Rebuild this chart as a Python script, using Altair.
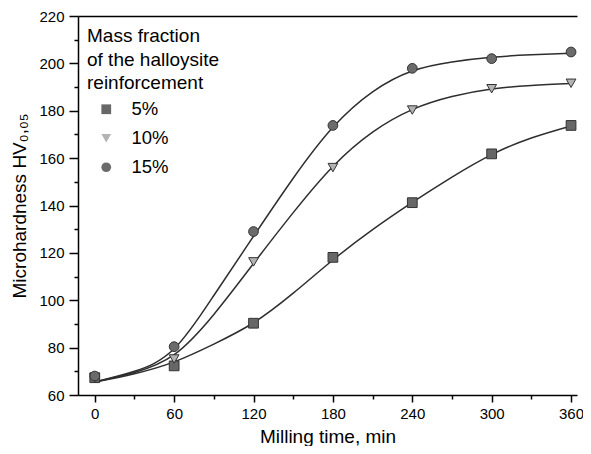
import altair as alt
import pandas as pd

# ---- data ----
series = ["5%", "10%", "15%"]
time_pts = [0, 60, 120, 180, 240, 300, 360]
hv_5 = [67.3, 72.3, 90.3, 118.1, 141.2, 161.8, 173.8]
hv_10 = [67.4, 75.2, 116.2, 156.0, 180.3, 189.3, 191.6]
hv_15 = [68.0, 80.4, 129.0, 173.8, 197.9, 202.0, 204.8]

# fitted curves
fit_time = [0, 30, 60, 90, 120, 150, 180, 210, 240, 270, 300, 330, 360]
fit_5 = [65.5, 69.0, 74.0, 81.5, 90.5, 103.0, 117.0, 129.8, 141.3, 152.0, 161.5, 168.5, 173.6]
fit_10 = [65.5, 69.5, 77.0, 94.0, 115.5, 137.0, 156.5, 171.0, 180.5, 186.0, 189.2, 190.7, 191.5]
fit_15 = [65.5, 70.0, 79.5, 102.0, 127.0, 151.5, 173.0, 188.0, 196.8, 200.6, 202.6, 203.6, 204.3]

x_major = [0, 60, 120, 180, 240, 300, 360]
x_minor = [30, 90, 150, 210, 270, 330]
y_major = [60, 80, 100, 120, 140, 160, 180, 200, 220]
y_minor = [70, 90, 110, 130, 150, 170, 190, 210]

legend_title = ["Mass fraction", "of the halloysite", "reinforcement"]

# ---- tables ----
pts = pd.DataFrame({
    "t": time_pts * 3,
    "hv": hv_5 + hv_10 + hv_15,
    "s": [series[0]] * 7 + [series[1]] * 7 + [series[2]] * 7,
})
fit = pd.DataFrame({
    "t": fit_time * 3,
    "hv": fit_5 + fit_10 + fit_15,
    "s": [series[0]] * 13 + [series[1]] * 13 + [series[2]] * 13,
})

FONT = "Liberation Sans"
xs = alt.Scale(domain=[-12.67, 364.5], nice=False, zero=False)
ys = alt.Scale(domain=[60, 220], nice=False, zero=False)

ax_x_major = alt.Axis(values=x_major, title="Milling time, min", grid=False, tickSize=7,
                      tickWidth=1.5, tickColor="black", domainColor="black", domainWidth=1.5,
                      labelFontSize=15, labelPadding=4, labelColor="black", labelFlush=False,
                      labelOverlap=False, format="d", titleFontSize=19, titleFontWeight="normal",
                      titleColor="black", titlePadding=6, orient="bottom")
ax_y_major = alt.Axis(values=y_major, title="Microhardness HV₀,₀₅", grid=False, tickSize=9,
                      tickWidth=1.5, tickColor="black", domainColor="black", domainWidth=1.5,
                      labelFontSize=15, labelPadding=5, labelColor="black", labelFlush=False,
                      labelOverlap=False, format="d", titleFontSize=19, titleFontWeight="normal",
                      titleColor="black", titlePadding=9, orient="left")
ax_x_minor = alt.Axis(values=x_minor, title=None, grid=False, tickSize=4, tickWidth=1.5,
                      tickColor="black", domain=False, labels=False, orient="bottom")
ax_y_minor = alt.Axis(values=y_minor, title=None, grid=False, tickSize=4, tickWidth=1.5,
                      tickColor="black", domain=False, labels=False, orient="left")
ax_x_top = alt.Axis(title=None, grid=False, ticks=False, labels=False, domain=True,
                    domainColor="black", domainWidth=1.5, orient="top")

legend = alt.Legend(title=legend_title, orient="none", legendX=9, legendY=11,
                    titleFontSize=19, titleFontWeight="normal", titleLineHeight=23.5,
                    titlePadding=7, titleColor="black", titleFont=FONT,
                    labelFontSize=18.5, labelColor="black", labelFont=FONT, labelOffset=16,
                    symbolSize=95, symbolOffset=10, rowPadding=10,
                    symbolStrokeColor="#333333", symbolStrokeWidth=1)

lines = alt.Chart(fit).mark_line(interpolate="natural", color="#2e2e2e", strokeWidth=1.5).encode(
    x=alt.X("t:Q", scale=xs, axis=ax_x_major),
    y=alt.Y("hv:Q", scale=ys, axis=ax_y_major),
    detail="s:N",
)

points = alt.Chart(pts).mark_point(filled=True, size=95, stroke="#333333", strokeWidth=1,
                                   opacity=1).encode(
    x=alt.X("t:Q", scale=xs, axis=ax_x_minor),
    y=alt.Y("hv:Q", scale=ys, axis=ax_y_minor),
    shape=alt.Shape("s:N", scale=alt.Scale(domain=series, range=["square", "triangle-down", "circle"]),
                    legend=legend),
    fill=alt.Fill("s:N", scale=alt.Scale(domain=series, range=["#676767", "#b3b3b3", "#6b6b6b"]),
                  legend=legend),
)

top = alt.Chart(fit).mark_line(strokeOpacity=0).encode(
    x=alt.X("t:Q", scale=xs, axis=ax_x_top),
    y=alt.Y("hv:Q", scale=ys, axis=None),
    detail="s:N",
)

chart = alt.layer(lines, points, top).resolve_axis(x="independent", y="independent").properties(
    width=575, height=438,
    autosize=alt.AutoSizeParams(type="fit", contains="padding"),
    padding={"left": 2, "top": 1, "right": 0, "bottom": 0},
).configure(font=FONT).configure_view(stroke=None)

chart.save("out.html", embed_options={"renderer": "svg", "actions": False})
